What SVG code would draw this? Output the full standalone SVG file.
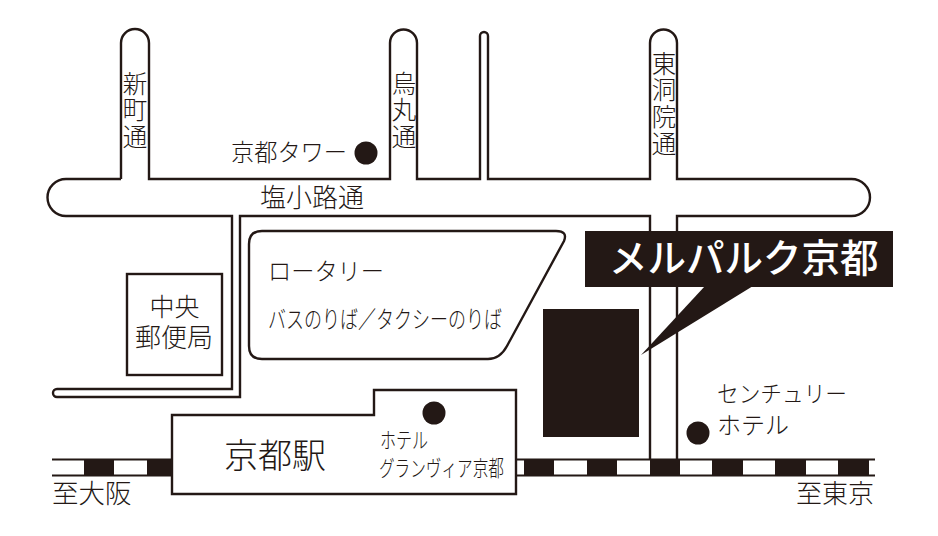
<svg xmlns="http://www.w3.org/2000/svg" width="938" height="536" viewBox="0 0 938 536">
<style>
.r{fill:none;stroke:#231815;stroke-width:2.4}
.k{fill:#231815}
.w{fill:#fff;stroke:#231815;stroke-width:2.4}
text{font-family:"Noto Sans CJK JP","Noto Sans",sans-serif;font-weight:300;fill:#231815}
.v{writing-mode:vertical-rl;font-size:24.500px;letter-spacing:2.200px}
</style>
<rect width="938" height="536" fill="#fff"/>
<g id="connectors">
<path id="roads" class="r" d="M121 179V43a14 14 0 0 1 28 0V179H390V43a13.500 13.500 0 0 1 27 0V179H480V36a4 4 0 0 1 8 0V179H650V43a13.500 13.500 0 0 1 27 0V179H851.500a18.500 18.500 0 0 1 0 37H677V459M650 459V216H240V397H57a4 4 0 0 1 0-8H232V216H66a18.500 18.500 0 0 1 0-37H121"/>
</g>
<g id="track">
<rect x="52" y="459" width="823" height="17" fill="#fff"/>
<path class="r" d="M52 459.500H875M52 475.500H875" style="stroke-width:2"/>
<path class="k" d="M84 459h30v17h-30zM147 459h26v17h-26zM524 459h30v17h-30zM587 459h30v17h-30zM650 459h30v17h-30zM712 459h31v17h-31zM775 459h31v17h-31zM838 459h31v17h-31z"/>
</g>
<g id="rotary">
<path class="r" d="M262 231H556Q568 231 564 241L507 346Q500 359 488 359H262Q249 359 249 346V244Q249 231 262 231Z"/>
<text x="268" y="280" font-size="24" textLength="116" lengthAdjust="spacingAndGlyphs">ロータリー</text>
<text x="268" y="328" font-size="24" textLength="234" lengthAdjust="spacingAndGlyphs">バスのりば／タクシーのりば</text>
</g>
<g id="post-office">
<rect class="w" x="127" y="274" width="95" height="101"/>
<text text-anchor="middle"><tspan x="174.500" y="316" font-size="25">中央</tspan><tspan x="174" y="347" font-size="26">郵便局</tspan></text>
</g>
<g id="station">
<path class="w" d="M172 415H374V390H516V494H172Z"/>
<text x="224" y="468" font-size="34">京都駅</text>
<circle class="k" cx="434" cy="413" r="11.500"/>
<text x="380" y="448" font-size="22" textLength="48" lengthAdjust="spacingAndGlyphs">ホテル</text>
<text x="379" y="476" font-size="22" textLength="125" lengthAdjust="spacingAndGlyphs">グランヴィア京都</text>
</g>
<g id="merpark">
<rect class="k" x="543" y="309" width="96" height="128"/>
<path class="k" d="M705 286L641 355L753 286Z"/>
<rect class="k" x="585" y="231" width="308" height="56"/>
<text x="609" y="272" font-size="38.500" style="fill:#fff;font-weight:500">メルパルク京都</text>
</g>
<g id="tower">
<circle class="k" cx="366" cy="153" r="11.500"/>
<text x="231" y="161" font-size="24" textLength="116" lengthAdjust="spacingAndGlyphs">京都タワー</text>
</g>
<g id="century">
<circle class="k" cx="698" cy="433" r="11.500"/>
<text x="717" y="402" font-size="23" textLength="130" lengthAdjust="spacingAndGlyphs">センチュリー</text>
<text x="717" y="434" font-size="24">ホテル</text>
</g>
<g id="road-labels">
<text x="260" y="207" font-size="26">塩小路通</text>
<text class="v" x="135" y="71">新町通</text>
<text class="v" x="404" y="71">烏丸通</text>
<text class="v" x="664" y="51">東洞院通</text>
</g>
<g id="directions">
<text x="52" y="503" font-size="26.500">至大阪</text>
<text x="796" y="503" font-size="26">至東京</text>
</g>
</svg>
